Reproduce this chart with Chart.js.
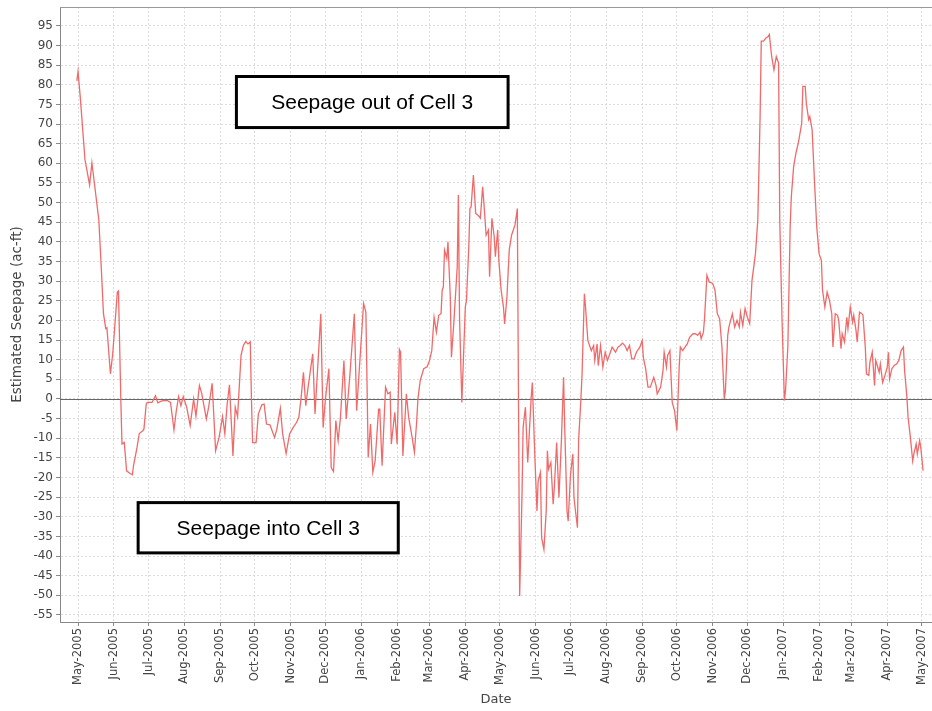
<!DOCTYPE html>
<html><head><meta charset="utf-8">
<script src="https://cdn.jsdelivr.net/npm/chart.js@4.4.0/dist/chart.umd.min.js"></script>
<style>html,body{margin:0;padding:0;background:#fff}#wrap{width:932px;height:711px}</style>
</head><body><div id="wrap"><canvas id="c" width="932" height="711"></canvas></div>
<script>
// day offsets from 1 May 2005
const days = [
-1,0,2,6,10,12,14,18,20,22,
24,25,28,30,34,35,37,38,40,42,
45,47,48,51,53,56,57,59,60,64,
67,69,71,74,77,80,83,85,87,89,
91,94,97,100,102,105,107,111,113,116,
119,122,125,127,129,131,134,136,138,141,
143,145,147,149,150,151,154,156,159,161,
163,166,170,172,175,177,180,183,186,189,
191,193,195,197,199,203,205,208,210,212,
214,217,219,221,223,225,227,230,232,235,
239,241,244,247,249,251,253,255,257,260,
261,263,266,268,270,271,274,276,278,279,
281,284,286,289,291,293,294,296,299,302,
304,306,308,310,312,314,315,316,317,319,
320,322,323,325,328,329,330,332,335,336,
338,339,340,342,344,346,348,350,351,353,
355,356,358,360,361,363,364,366,368,369,
371,373,375,378,380,381,382,384,385,387,
389,392,393,395,397,398,400,401,403,405,
406,407,409,411,412,414,416,418,420,421,
423,424,426,428,429,430,432,433,435,436,
438,439,441,444,446,447,449,450,452,454,
456,458,460,462,465,467,469,471,473,475,
477,479,481,483,486,488,489,491,493,495,
498,500,501,504,506,507,509,510,512,513,
514,516,518,520,521,523,527,529,532,534,
536,538,539,541,542,544,546,549,551,553,
555,557,559,560,562,563,566,568,570,572,
573,575,577,579,581,583,586,588,589,590,
591,593,595,597,598,600,602,604,606,607,
609,611,612,614,615,616,617,619,621,623,
626,627,629,630,632,633,635,637,639,641,
643,644,646,648,650,652,653,655,657,658,
660,661,663,665,666,668,670,671,673,674,
676,678,679,681,682,684,685,687,689,690,
691,693,694,696,698,700,701,702,704,706,
708,710,712,714,715,717,718,720,722,723,
725,726,728,729,731
];
// estimated seepage (ac-ft)
const seepage = [
81,83.4,76.6,60.9,54.5,60.1,55.3,45.5,34,21.7,
17.9,18.1,6.4,11.5,27.2,27.5,0,-11.5,-11.1,-18.3,
-19,-19.3,-17,-12.4,-8.8,-8.1,-7.7,-1.3,-0.9,-0.9,
0.8,-1,-0.7,-0.4,-0.4,-0.9,-7.9,-3,0.6,-1.7,
0.6,-2.1,-6.8,0,-4.4,3.4,1.4,-5.1,-2.1,4,
-13.2,-9.8,-4.5,-8.9,-1.3,3.6,-14.5,-2.1,-4.5,11.1,
13.6,14.6,14,14.5,0,-11.1,-11.1,-3.8,-1.5,-1.3,
-6.4,-6.6,-9.8,-7.7,-2.4,-8.9,-13.9,-8.9,-7.3,-6,
-4.7,0.4,6.8,-1.7,3,11.5,-3.8,11.5,21.7,-7.3,
0,7.7,-17.5,-18.5,-5.5,-10.6,-4.7,9.8,-5.1,5.5,
21.7,-3,10.6,24.3,22.1,-14.9,-6.4,-18.7,-15.8,-2.6,
-2.6,-17,3,1.3,1.7,-11.5,-3.4,-11.5,12.6,11.9,
-14.5,1.3,-4.7,-9.8,-13.6,-5.5,0,4.7,7.7,8.2,
9.8,12.3,20.8,17,21.3,21.7,27.7,28.5,37.9,35.8,
40,25.9,10.6,19.1,33.6,51.9,20.8,-0.9,23.4,25.1,
38.7,48.5,48.9,57,47.2,46.8,46,54,50.2,41.7,
43,31.1,46,41.3,36.2,43,35.3,27.7,23.4,19.1,
25.9,37.9,41.7,44.3,48.5,0,-50.2,-25.1,-7.3,-2.1,
-16.2,0.4,4.2,-13.6,-28.5,-20.9,-18.7,-35.3,-38.3,-28.5,
-13.2,-17.9,-16.2,-26.8,-22.6,-11.1,-25.1,-11.5,5.5,-7.3,
-28.5,-31.1,-19.2,-14,-25.1,-27.7,-32.8,-10.6,0,6.4,
26.8,23.4,14.9,12.3,13.6,9.8,14,8.5,13.6,8.1,
11.9,9.8,11.5,13.2,11.9,13.2,13.6,14.2,13.6,12.3,
13.6,10.2,10.2,11.9,13.2,14.9,10.6,7.7,3,3,
5.5,3.4,1.3,3,7.2,11.9,8.1,11.1,12.3,5.5,
-0.9,-3,-8.1,8.1,13.2,12.3,14,15.7,16.6,16.6,
16.2,17,15.3,17,20.8,31.5,29.8,29.4,27.7,21.7,
20.4,13.2,0,2.1,16.2,18.3,21.7,18.3,20,18.3,
22.1,18.7,23,20.8,19.2,30.2,37,45.5,58.3,71.9,
91.1,91.1,91.9,92.3,92.8,87.2,83.8,87.2,85.5,45.5,
20,-0.4,2.1,13.2,28.5,43.8,51.5,59.1,62.6,65.1,
70.2,79.6,79.6,75.3,71.1,71.9,68.5,55.7,43.8,37,
35.3,27.7,23.4,27.2,25.1,21.7,13.2,21.7,21.3,20,
12.8,16.6,14.5,20.8,17.9,23.4,19.6,21.3,17.4,14.5,
22.1,21.7,21.3,13.2,6.4,6,9.4,11.9,3.4,9.8,
8.9,6.8,8.9,4.2,6,8.1,11.9,5.1,7.7,8.5,
8.9,9.8,12.3,13.2,7.2,0.4,-4.7,-9.8,-15.8,-14,
-11.5,-14,-10.6,-12.4,-18.3
];
const monthDays = [0,31,61,92,123,153,184,214,245,276,304,335,365,396,426,457,488,518,549,579,610,641,669,700,730];
const monthLabels = ['May-2005','Jun-2005','Jul-2005','Aug-2005','Sep-2005','Oct-2005','Nov-2005','Dec-2005',
 'Jan-2006','Feb-2006','Mar-2006','Apr-2006','May-2006','Jun-2006','Jul-2006','Aug-2006','Sep-2006','Oct-2006',
 'Nov-2006','Dec-2006','Jan-2007','Feb-2007','Mar-2007','Apr-2007','May-2007'];
const yTicks = [-55,-50,-45,-40,-35,-30,-25,-20,-15,-10,-5,0,5,10,15,20,25,30,35,40,45,50,55,60,65,70,75,80,85,90,95];
const noteTexts = ['Seepage out of Cell 3','Seepage into Cell 3'];
// note boxes in data units: [dayStart, dayEnd, valueTop, valueBottom]
const noteBoxes = [[137,372,82.1,69.1],[52,277,-26.4,-39.2]];

const overlay = {
  id:'overlay',
  beforeDatasetsDraw(chart){
    const {ctx, chartArea:a, scales:{y}} = chart;
    const y0 = Math.round(y.getPixelForValue(0))+0.5;
    ctx.save();
    ctx.strokeStyle='#666'; ctx.lineWidth=1;
    ctx.beginPath(); ctx.moveTo(a.left,y0); ctx.lineTo(a.right,y0); ctx.stroke();
    ctx.strokeStyle='#999';
    ctx.beginPath(); ctx.moveTo(a.left,a.top+0.5); ctx.lineTo(a.right,a.top+0.5); ctx.stroke();
    ctx.restore();
  },
  afterDatasetsDraw(chart){
    const {ctx, scales:{x,y}} = chart;
    ctx.save();
    noteBoxes.forEach((b,i)=>{
      const l=x.getPixelForValue(b[0]), r=x.getPixelForValue(b[1]);
      const t=y.getPixelForValue(b[2]), bt=y.getPixelForValue(b[3]);
      ctx.fillStyle='#fff'; ctx.fillRect(l,t,r-l,bt-t);
      ctx.strokeStyle='#000'; ctx.lineWidth=3; ctx.strokeRect(l,t,r-l,bt-t);
      ctx.fillStyle='#000'; ctx.font='21px "Liberation Sans", Arial, sans-serif';
      ctx.textAlign='center'; ctx.textBaseline='middle';
      ctx.fillText(noteTexts[i],(l+r)/2,(t+bt)/2+1);
    });
    ctx.restore();
  }
};

new Chart(document.getElementById('c'),{
  type:'line',
  data:{datasets:[{
    data: days.map((d,i)=>({x:d,y:seepage[i]})),
    borderColor:'#f06a6a', borderWidth:1.3, pointRadius:0, tension:0, fill:false
  }]},
  options:{
    responsive:false, animation:false, devicePixelRatio:1,
    layout:{padding:{top:7,right:0,left:0,bottom:0}},
    plugins:{legend:{display:false}, tooltip:{enabled:false}},
    scales:{
      x:{type:'linear', min:-15.6, max:738.7,
        afterBuildTicks:s=>{s.ticks=monthDays.map(v=>({value:v}));},
        afterFit:s=>{s.height=89; s.paddingLeft=0; s.paddingRight=0;},
        ticks:{autoSkip:false,minRotation:90,maxRotation:90,padding:2,color:'#444',
          font:{family:'DejaVu Sans',size:11.5},
          callback:(v,i)=>monthLabels[i]},
        grid:{color:'#dcdcdc',lineWidth:1,tickLength:4,tickColor:'#888'},
        border:{color:'#888',width:1,dash:[2,2]},
        title:{display:true,text:'Date',color:'#444',font:{family:'DejaVu Sans',size:13},padding:{top:0,bottom:4}}
      },
      y:{min:-56.8, max:99.8,
        afterBuildTicks:s=>{s.ticks=yTicks.map(v=>({value:v}));},
        afterFit:s=>{s.width=60; s.paddingTop=0; s.paddingBottom=0;},
        ticks:{padding:3,color:'#444',font:{family:'DejaVu Sans',size:12}},
        grid:{color:'#dcdcdc',lineWidth:1,tickLength:4,tickColor:'#888'},
        border:{color:'#888',width:1,dash:[2,2]},
        title:{display:true,text:'Estimated Seepage (ac-ft)',color:'#444',font:{family:'DejaVu Sans',size:13.5},padding:{top:9,bottom:0}}
      }
    }
  },
  plugins:[overlay]
});
</script></body></html>
